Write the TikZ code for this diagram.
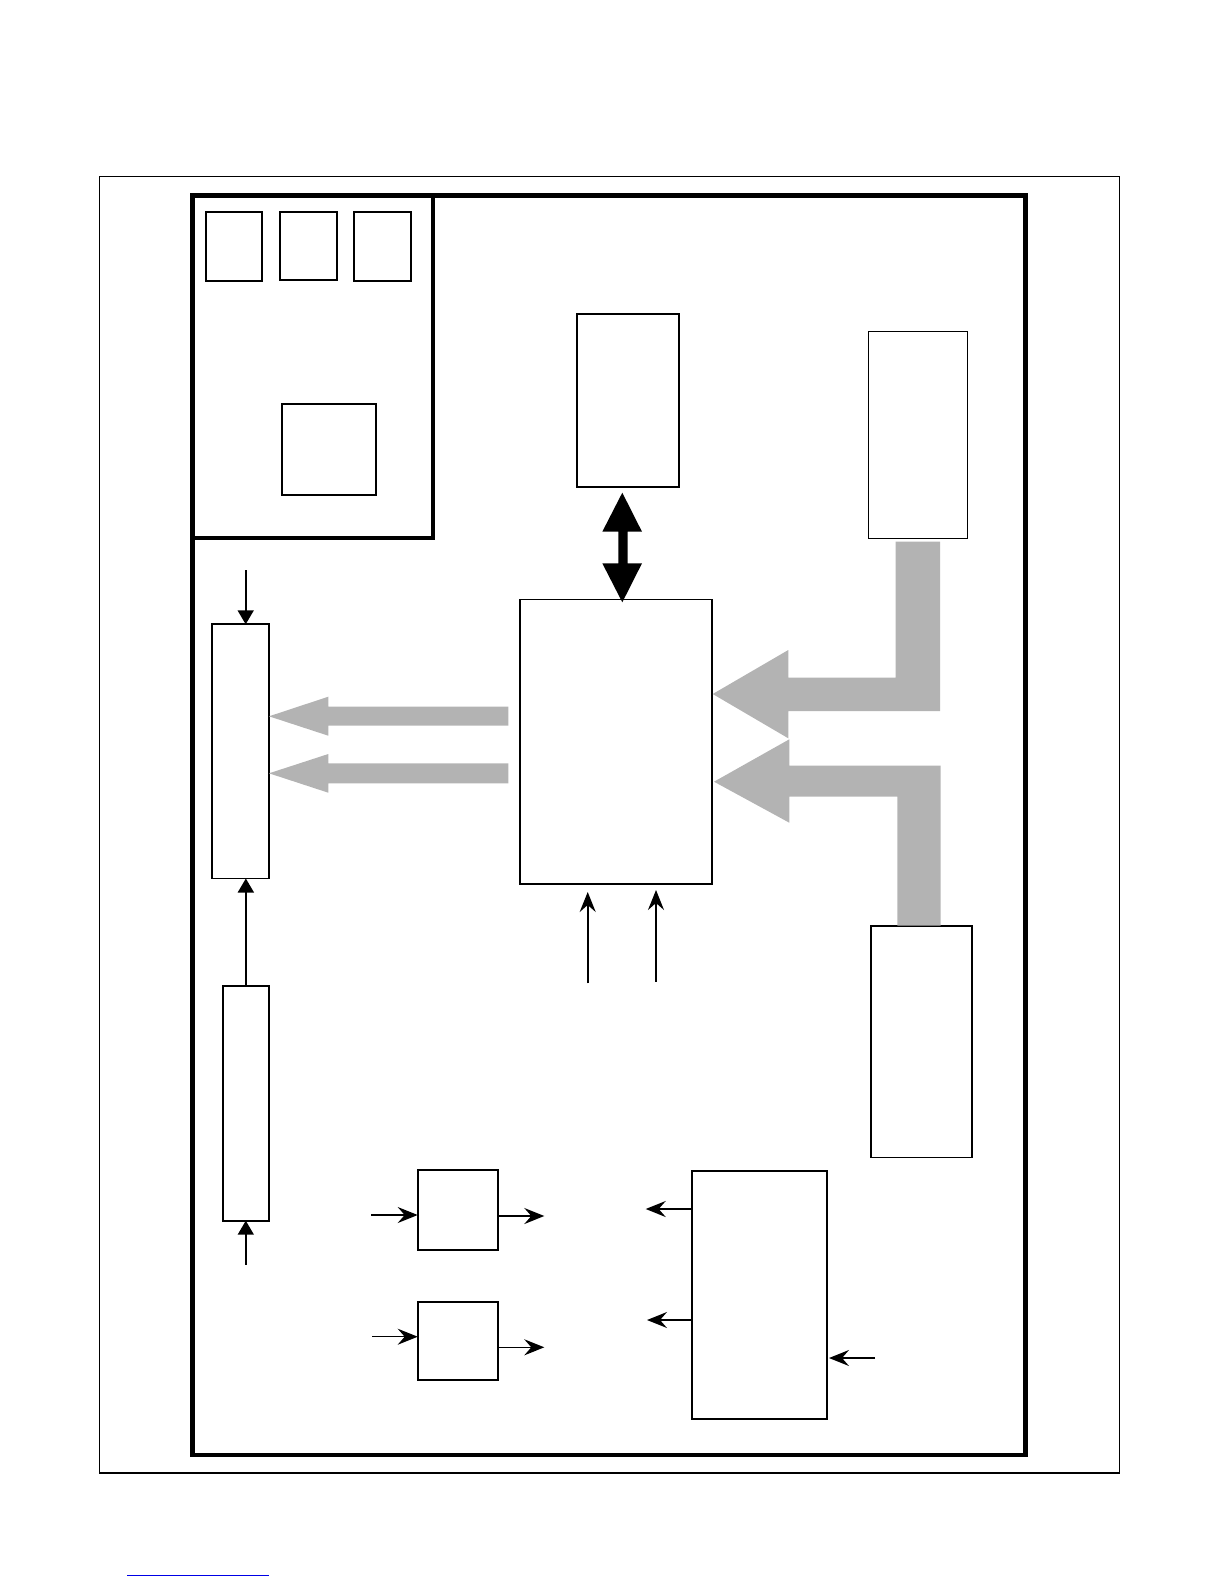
\documentclass[tikz,border=0pt]{standalone}
\usetikzlibrary{arrows.meta}
\definecolor{grayarrow}{RGB}{179,179,179}
\definecolor{linkblue}{RGB}{0,0,230}
\tikzset{
  box/.style={draw=black, line width=1.8pt, inner sep=0pt, outer sep=0pt, anchor=north west},
  tri/.style={line width=1.6pt, -{Triangle[length=14pt,width=16pt]}},
  stl/.style={line width=1.6pt, -{Stealth[length=20pt,width=16pt,inset=7pt]}},
  stlthin/.style={line width=1.1pt, -{Stealth[length=20pt,width=16pt,inset=7pt]}},
  grayfill/.style={fill=grayarrow, draw=none},
}
\newcommand{\bx}[6][]{\node[box,#1, minimum width=#4-#2, minimum height=#5-#3] (#6) at (#2,#3) {};}
\begin{document}
\begin{tikzpicture}[x=1pt,y=-1pt]
\useasboundingbox (0,0) rectangle (1225,1585);
% frames
\bx[line width=1.2pt]{99.3}{176.3}{1119.3}{1473}{outer}
\bx[line width=4.5pt]{192.5}{195.7}{1025.7}{1455}{frame}
\bx[line width=4pt]{192.5}{195.7}{432.5}{538.3}{panel}
% panel boxes
\bx{205.7}{212}{262.3}{280.7}{sa}
\bx{280}{212}{337}{279.7}{sb}
\bx{354}{212}{411}{280.7}{sc}
\bx{282}{403.7}{376}{495.3}{sd}
% upper boxes
\bx{576.7}{314}{679}{486.8}{topc}
\bx{868.5}{331.5}{967.5}{538.5}{topr}
\bx[line width=1.5pt]{520}{599.3}{712}{884}{cen}
\bx{870.7}{925.6}{971.7}{1157.4}{brb}
% left column
\bx{211.7}{624.3}{269}{878.5}{ltall}
\bx{222.7}{985.7}{269}{1220.7}{lbot}
% bottom
\bx{417.7}{1170}{498.3}{1250}{sbA}
\bx{417.7}{1302}{498.3}{1379.7}{sbB}
\bx{691.7}{1171}{827}{1419.3}{big}

% black double arrow between topc and cen
\fill[black] (622.3,492.7) -- (642,531.7) -- (627.7,531.7) -- (627.7,563.3) -- (642,563.3)
  -- (622.3,602.3) -- (602.3,563.3) -- (618.3,563.3) -- (618.3,531.7) -- (602.3,531.7) -- cycle;

% gray arrows from cen to ltall
\fill[grayfill] (508.3,706.7) -- (328.3,706.7) -- (328.3,696.7) -- (269,716.3) -- (328.3,735.7)
  -- (328.3,725.7) -- (508.3,725.7) -- cycle;
\fill[grayfill] (508.3,763.3) -- (328.3,763.3) -- (328.3,754) -- (269,773.3) -- (328.3,792.7)
  -- (328.3,783.3) -- (508.3,783.3) -- cycle;

% gray L-arrows into cen
\fill[grayfill] (895.7,541.7) -- (940,541.7) -- (940,711) -- (788.3,711) -- (788.3,738.3)
  -- (712.7,694) -- (788.3,650) -- (788.3,677.7) -- (895.7,677.7) -- cycle;
\fill[grayfill] (940.7,925.6) -- (897.3,925.6) -- (897.3,796.7) -- (789.3,796.7) -- (789.3,822.7)
  -- (714,781.7) -- (789.3,739.3) -- (789.3,765.7) -- (940.7,765.7) -- cycle;

% left column arrows
\coordinate (ltin) at (245.7,570);
\draw[tri] (ltin) -- (ltin |- ltall.north);
\draw[tri] (lbot.north) -- (lbot.north |- ltall.south);
\coordinate (lbin) at (245.8,1264.5);
\draw[tri] (lbin) -- (lbin |- lbot.south);

% arrows into cen from below
\coordinate (c1) at (587.7,983.3);
\coordinate (c2) at (656,981.7);
\draw[stl] (c1) -- ([yshift=-8pt]c1 |- cen.south);
\draw[stlthin] (c2) -- ([yshift=-6pt]c2 |- cen.south);

% small boxes arrows
\coordinate (a1) at (371,1215);
\coordinate (a2) at (544.3,1216);
\coordinate (b1) at (372.3,1336.7);
\coordinate (b2) at (544.3,1347.3);
\draw[stl] (a1) -- (a1 -| sbA.west);
\draw[stl] (a2 -| sbA.east) -- (a2);
\draw[stlthin] (b1) -- (b1 -| sbB.west);
\draw[stl] (b2 -| sbB.east) -- (b2);

% big box arrows
\coordinate (o1) at (645.7,1209);
\coordinate (o2) at (647,1320);
\coordinate (i1) at (875,1358);
\draw[stl] (o1 -| big.west) -- (o1);
\draw[stl] (o2 -| big.west) -- (o2);
\draw[stl] (i1) -- ([xshift=2pt]i1 -| big.east);

% blue line at bottom
\coordinate (bl1) at (127.3,1575);
\coordinate (bl2) at (268.7,1575);
\draw[linkblue, line width=1pt] (bl1) -- (bl2);
\end{tikzpicture}
\end{document}
